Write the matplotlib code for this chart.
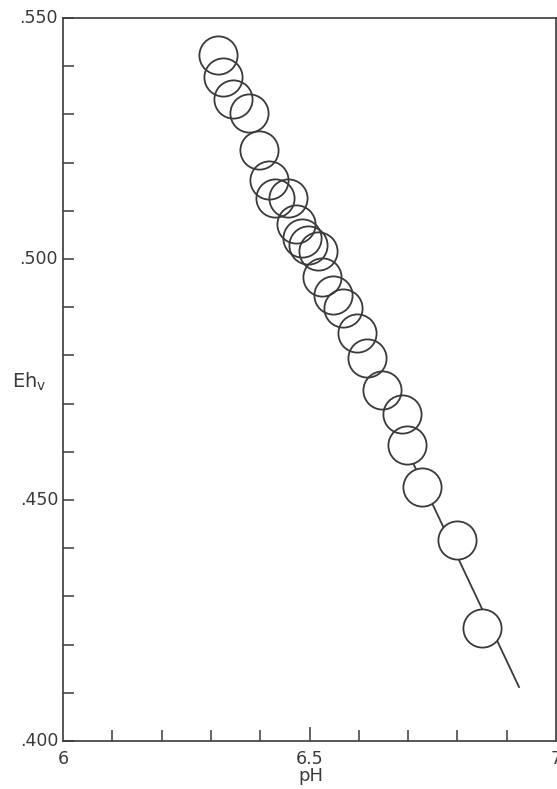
import matplotlib
matplotlib.use("Agg")
import matplotlib.pyplot as plt
from matplotlib.ticker import MultipleLocator, FixedLocator

plt.rcParams['font.family'] = ['DejaVu Sans']

# Measured redox potential (V) against pH
ph = [6.315, 6.325, 6.344, 6.377, 6.397, 6.417, 6.431, 6.456, 6.472, 6.484,
      6.496, 6.518, 6.526, 6.547, 6.567, 6.597, 6.617, 6.648, 6.688, 6.698,
      6.729, 6.800, 6.850]
eh = [0.5423, 0.5378, 0.5332, 0.5303, 0.5226, 0.5164, 0.5127, 0.5127, 0.5073, 0.5044,
      0.5029, 0.5017, 0.4963, 0.4925, 0.4898, 0.4846, 0.4795, 0.4728, 0.4678, 0.4614,
      0.4527, 0.4417, 0.4234]

# Trend line end points
line_ph = [6.31, 6.925]
line_eh = [0.5442, 0.4112]

x_labels = {6.0: "6", 6.5: "6.5", 7.0: "7"}
y_labels = {0.55: ".550", 0.50: ".500", 0.45: ".450", 0.40: ".400"}

ink = "#3a3a3a"
W, H = 557, 789
fig = plt.figure(figsize=(W / 100, H / 100), dpi=100)
ax = fig.add_axes([63 / W, 48 / H, (556 - 63) / W, (741 - 18) / H])

ax.plot(line_ph, line_eh, color=ink, lw=1.3, zorder=2)
# white discs hide the line inside the circles, outlines drawn on top of all discs
ax.plot(ph, eh, linestyle="none", marker="o", markersize=27.5,
        markerfacecolor="white", markeredgecolor="none", zorder=3)
ax.plot(ph, eh, linestyle="none", marker="o", markersize=27.5,
        markerfacecolor="none", markeredgecolor=ink, markeredgewidth=1.3, zorder=4)

ax.set_xlim(6.0, 7.0)
ax.set_ylim(0.40, 0.55)

for s in ax.spines.values():
    s.set_color(ink)
    s.set_linewidth(1.2)

# x ticks: every 0.1 pH, longer mark at 6.5
ax.xaxis.set_major_locator(FixedLocator([6.5]))
ax.xaxis.set_minor_locator(FixedLocator([6.1, 6.2, 6.3, 6.4, 6.6, 6.7, 6.8, 6.9]))
ax.tick_params(axis="x", which="major", direction="in", length=10, width=1.1,
               color=ink, labelbottom=False)
ax.tick_params(axis="x", which="minor", direction="in", length=8, width=1.1, color=ink)

# y ticks: every 0.01 V
ax.yaxis.set_major_locator(MultipleLocator(0.01))
ax.tick_params(axis="y", which="major", direction="in", length=8, width=1.1,
               color=ink, labelleft=False)

for xv, txt in x_labels.items():
    ax.text(xv, -0.012, txt, transform=ax.get_xaxis_transform(), ha="center",
            va="top", fontsize=12.5, color=ink, clip_on=False)
for yv, txt in y_labels.items():
    ax.text(-0.010, yv, txt, transform=ax.get_yaxis_transform(), ha="right",
            va="center", fontsize=12.5, color=ink, clip_on=False)

fig.text(311 / W, 1 - 776 / H, "pH", ha="center", va="center", fontsize=13, color=ink)
fig.text(29 / W, 1 - 382 / H, r"Eh$_\mathregular{v}$", ha="center", va="center",
         fontsize=14, color=ink)

fig.savefig("out.png", dpi=100, facecolor="white")
